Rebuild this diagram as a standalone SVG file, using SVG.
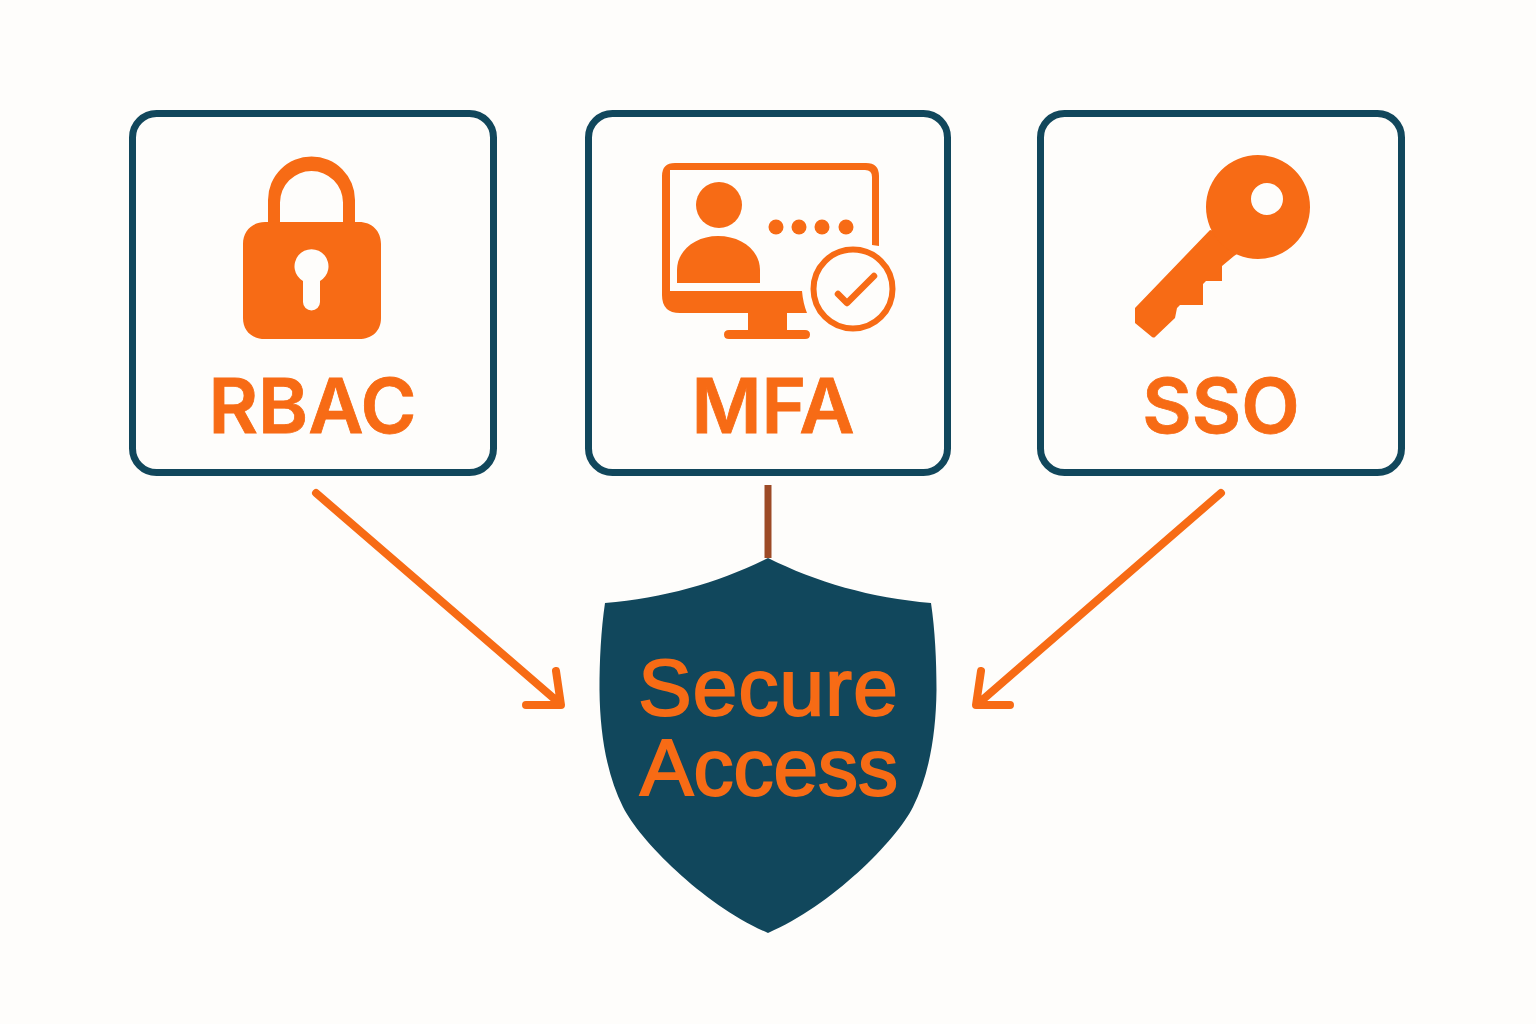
<svg xmlns="http://www.w3.org/2000/svg" width="1536" height="1024" viewBox="0 0 1536 1024">
<style>
.box{fill:#fefdfb;stroke:#11475c;stroke-width:7}
.o{fill:#f76b15}
.bg{fill:#fefdfb}
.lbl{font-family:"Inter","Liberation Sans",sans-serif;font-weight:600;font-size:76px;fill:#f76b15;text-anchor:middle;stroke:#f76b15;stroke-width:0.800}
.sh{font-family:"Liberation Sans",sans-serif;font-weight:400;font-size:80px;fill:#f76b15;text-anchor:middle;stroke:#f76b15;stroke-width:2}
.ln{fill:none;stroke:#f76b15;stroke-width:8;stroke-linecap:round;stroke-linejoin:round}
</style>
<rect width="1536" height="1024" class="bg"/>
<g id="connectors">
<path class="ln" d="M316 493L558 702M526 705H561L556 671"/>
<path class="ln" d="M1221 493L980 702M1010 705H976L981 671"/>
<path d="M768 485V558" fill="none" stroke="#9c4a26" stroke-width="7"/>
</g>
<g id="rbac">
<rect class="box" x="132.500" y="113.500" width="361" height="359" rx="24"/>
<path class="o" fill-rule="evenodd" d="M268 222V200A43.500 43.500 0 0 1 355 200V222H359C372 222 381 231 381 244V318C381 331 372 339 359 339H265C252 339 243 331 243 318V244C243 231 252 222 265 222ZM280 222H343V202.500A31.500 31.500 0 0 0 280 202.500ZM303 281V302A8.500 8.500 0 0 0 320 302V281A17 17 0 1 0 303 281Z"/>
<text class="lbl" x="312.500" y="433">RBAC</text>
</g>
<g id="mfa">
<rect class="box" x="588.500" y="113.500" width="359" height="359" rx="24"/>
<path class="o" d="M872 245V177Q872 170 865 170H670V291H802Q803 303 807 313H680Q662 313 662 295V176Q662 163 675 163H866Q879 163 879 176V246Z"/>
<circle class="o" cx="719" cy="205" r="23"/>
<path class="o" d="M677 283V270C677 250 696 236 718 236C741 236 760 250 760 270V283Z"/>
<circle class="o" cx="776" cy="227" r="7.500"/>
<circle class="o" cx="799" cy="227" r="7.500"/>
<circle class="o" cx="822" cy="227" r="7.500"/>
<circle class="o" cx="846" cy="227" r="7.500"/>
<path class="o" d="M748 313H787V330H805Q810 330 810 334.500Q810 339 805 339H729Q724 339 724 334.500Q724 330 729 330H748Z"/>
<circle cx="853" cy="289" r="39.500" fill="none" stroke="#f76b15" stroke-width="6"/>
<path class="ln" d="M838 294L847 303L874 276" style="stroke-width:6.500"/>
<text class="lbl" x="773" y="433">MFA</text>
</g>
<g id="sso">
<rect class="box" x="1040.500" y="113.500" width="361" height="359" rx="24"/>
<path class="o" d="M1210 230L1135 308V323L1152 337Q1154 338 1155 337L1175 318L1177 308L1180 305H1203V284L1206 281H1222V266L1234 256L1258 240Z"/>
<path class="o" fill-rule="evenodd" d="M1206 207A52 52 0 1 1 1310 207A52 52 0 1 1 1206 207ZM1251 199A16 16 0 1 0 1283 199A16 16 0 1 0 1251 199Z"/>
<text class="lbl" x="1221" y="433">SSO</text>
</g>
<g id="secure-access">
<path d="M768 558C720 582 665 598 605 603C601 630 599.500 660 599.500 690C600 735 607 775 623 807C640 841 705 906 768 933C831 906 896 841 913 807C929 775 936 735 936.500 690C936.500 660 935 630 931 603C871 598 816 582 768 558Z" fill="#11475c"/>
<text class="sh"><tspan x="768.500" y="715" style="letter-spacing:1.200px">Secure</tspan><tspan x="769" y="795">Access</tspan></text>
</g>
</svg>
